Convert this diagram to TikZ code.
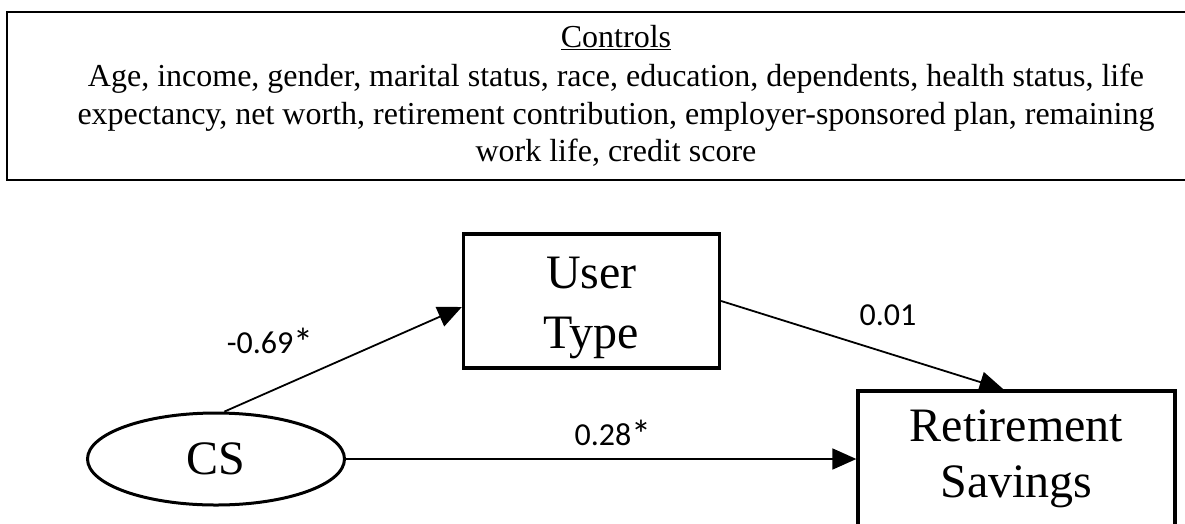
\documentclass[tikz,border=0pt]{standalone}
\usepackage{fontspec}
\setmainfont{Liberation Serif}
\newfontfamily\coeffont{Carlito}
\usetikzlibrary{arrows.meta,shapes.geometric}
\newcommand{\sig}{\raisebox{-3pt}{\fontsize{40}{36}\selectfont *}}
\begin{document}
\begin{tikzpicture}[x=1pt,y=-1pt,
  varbox/.style={draw, rectangle, line width=3.3pt, inner sep=0pt, align=center,
    font=\fontsize{48}{60}\selectfont},
  latent/.style={draw, ellipse, line width=3pt, inner sep=0pt,
    font=\fontsize{48}{57}\selectfont},
  ctrlbox/.style={draw, rectangle, line width=2.6pt, inner sep=0pt, align=center,
    font=\fontsize{32}{37.5}\selectfont},
  path/.style={line width=1.8pt, -{Triangle[length=24pt,width=21pt]}},
  coef/.style={anchor=base, inner sep=0pt, font=\coeffont\fontsize{32}{36}\selectfont}]
\useasboundingbox (0,0) rectangle (1185,523);

% controls box across the top
\node[ctrlbox, minimum width=1218pt, minimum height=168pt] (ctrl) at (616,96)
  {\underline{Controls}\\[1.5pt]
   Age, income, gender, marital status, race, education, dependents, health status, life\\
   expectancy, net worth, retirement contribution, employer-sponsored plan, remaining\\
   work life, credit score};

% model variables
\node[latent, minimum width=257pt, minimum height=92pt] (cs) at (216,459) {CS};
\node[varbox, minimum width=256pt, minimum height=134pt] (ut) at (591.5,301)
  {\rule{0pt}{46pt}User\\Type};
\node[varbox, font=\fontsize{48}{56}\selectfont, minimum width=317pt, minimum height=136pt]
  (rs) at (1016.5,459) {Retirement\\Savings};

% paths
\draw[path] (cs.80) -- ([yshift=-6pt]ut.west);
\draw[path] (ut.east) -- ([xshift=-13pt]rs.north);
\draw[path] (cs.east) -- (rs.west);

% path coefficients
\node[coef] (c1) at (270,353) {-0.69\sig};
\node[coef] (c2) at (888,325) {0.01};
\node[coef] (c3) at (613,445) {0.28\sig};
\end{tikzpicture}
\end{document}
